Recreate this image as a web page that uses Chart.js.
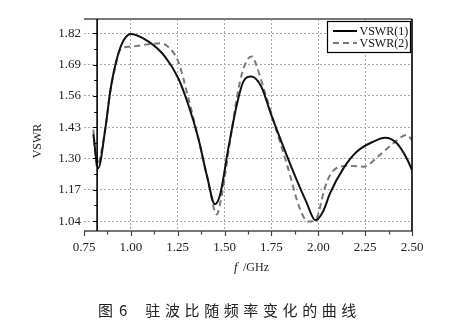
<!DOCTYPE html>
<html>
<head>
<meta charset="utf-8">
<script src="https://cdn.jsdelivr.net/npm/chart.js@4"></script>
<style>
  body { margin: 0; background: #fff; }
  #wrap { position: relative; width: 460px; height: 335px; }
  #myChart { position: absolute; left: 0; top: 0; }
  #caption {
    position: absolute; left: 98px; top: 300px;
    font-family: "Noto Sans CJK SC", sans-serif; font-size: 15px; color: #222;
    letter-spacing: 4.6px; white-space: nowrap; line-height: 20px;
  }
  #caption span { letter-spacing: 6px; margin-right: 12px; }
</style>
</head>
<body>
<div id="wrap">
  <canvas id="myChart" width="460" height="335"></canvas>
  <div id="caption"><span>图6</span>驻波比随频率变化的曲线</div>
</div>
<script>
// frequency (GHz) and VSWR samples for both curves
var freq1 = [0.80, 0.825, 0.864, 0.89, 0.917, 0.953, 1.00, 1.095, 1.182, 1.253, 1.307, 1.36, 1.405, 1.449, 1.476, 1.52, 1.565, 1.60, 1.643, 1.696, 1.749, 1.803, 1.874, 1.936, 1.984, 2.025, 2.063, 2.134, 2.205, 2.294, 2.356, 2.419, 2.472, 2.50];
var vswr1 = [1.40, 1.259, 1.425, 1.578, 1.688, 1.778, 1.817, 1.785, 1.723, 1.633, 1.522, 1.384, 1.231, 1.11, 1.149, 1.342, 1.522, 1.619, 1.64, 1.598, 1.481, 1.37, 1.231, 1.12, 1.044, 1.079, 1.156, 1.259, 1.328, 1.37, 1.386, 1.363, 1.30, 1.252];

var freq2 = [0.80, 0.818, 0.864, 0.89, 0.917, 0.935, 0.953, 1.00, 1.095, 1.157, 1.198, 1.253, 1.307, 1.36, 1.413, 1.458, 1.485, 1.529, 1.582, 1.627, 1.648, 1.669, 1.714, 1.768, 1.839, 1.901, 1.945, 1.99, 2.034, 2.063, 2.095, 2.169, 2.24, 2.329, 2.40, 2.472, 2.50];
var vswr2 = [1.42, 1.27, 1.425, 1.578, 1.68, 1.737, 1.758, 1.764, 1.774, 1.778, 1.764, 1.702, 1.55, 1.384, 1.204, 1.068, 1.149, 1.37, 1.619, 1.716, 1.723, 1.688, 1.578, 1.439, 1.259, 1.093, 1.038, 1.052, 1.176, 1.231, 1.259, 1.27, 1.266, 1.315, 1.363, 1.398, 1.377];

var yTicks = [1.04, 1.17, 1.30, 1.43, 1.56, 1.69, 1.82];
var seriesNames = ['VSWR(1)', 'VSWR(2)'];

function toPoints(xs, ys) {
  var pts = [];
  for (var i = 0; i < xs.length; i++) pts.push({x: xs[i], y: ys[i]});
  return pts;
}

var serif = '"Liberation Serif", "Times New Roman", serif';

// frame, tick marks, legend and axis titles
var decor = {
  id: 'decor',
  afterDraw: function(chart) {
    var ctx = chart.ctx, a = chart.chartArea;
    var xs = chart.scales.x, ys = chart.scales.y;
    var axisX = xs.getPixelForValue(0.82);
    ctx.save();

    // top and bottom lines
    ctx.strokeStyle = '#777';
    ctx.lineWidth = 2;
    ctx.beginPath();
    ctx.moveTo(a.left, a.top); ctx.lineTo(a.right, a.top);
    ctx.moveTo(a.left, a.bottom); ctx.lineTo(a.right, a.bottom);
    ctx.stroke();

    // x tick marks every 0.125
    ctx.lineWidth = 1.2;
    ctx.strokeStyle = '#444';
    ctx.beginPath();
    for (var k = 0; k <= 14; k++) {
      var px = Math.round(xs.getPixelForValue(0.75 + k * 0.125)) + 0.5;
      ctx.moveTo(px, a.bottom);
      ctx.lineTo(px, a.bottom + (k % 2 === 0 ? 5 : 3.5));
    }
    ctx.stroke();

    // left and right lines
    ctx.strokeStyle = '#000';
    ctx.lineWidth = 1.6;
    ctx.beginPath();
    ctx.moveTo(axisX, a.top); ctx.lineTo(axisX, a.bottom);
    ctx.moveTo(a.right, a.top); ctx.lineTo(a.right, a.bottom);
    ctx.stroke();

    // y tick marks, major on labels and minor halfway
    ctx.lineWidth = 1;
    ctx.beginPath();
    for (var j = -1; j <= 13; j++) {
      var v = 1.04 + j * 0.065;
      var py = Math.round(ys.getPixelForValue(v)) + 0.5;
      if (py < a.top || py > a.bottom) continue;
      ctx.moveTo(axisX, py);
      ctx.lineTo(axisX - (j % 2 === 0 ? 4 : 3), py);
    }
    ctx.stroke();

    // legend box
    var bx = 327, by = 21, bw = 83, bh = 31;
    ctx.fillStyle = '#fff';
    ctx.fillRect(bx, by, bw, bh);
    ctx.strokeStyle = '#000';
    ctx.lineWidth = 1.2;
    ctx.strokeRect(bx + 0.5, by + 0.5, bw, bh);
    var rows = [
      {y: 31, color: '#000', dash: []},
      {y: 43, color: '#7a7a7a', dash: [6, 4]}
    ];
    ctx.font = '12px ' + serif;
    ctx.textAlign = 'left';
    ctx.textBaseline = 'middle';
    rows.forEach(function(r, i) {
      ctx.strokeStyle = r.color;
      ctx.lineWidth = 2;
      ctx.setLineDash(r.dash);
      ctx.beginPath();
      ctx.moveTo(333, r.y); ctx.lineTo(357, r.y);
      ctx.stroke();
      ctx.setLineDash([]);
      ctx.fillStyle = '#111';
      ctx.fillText(seriesNames[i], 359.5, r.y + 0.5);
    });

    // y axis title
    ctx.save();
    ctx.translate(38, 141);
    ctx.rotate(-Math.PI / 2);
    ctx.textAlign = 'center';
    ctx.textBaseline = 'middle';
    ctx.fillStyle = '#222';
    ctx.font = '12px ' + serif;
    ctx.fillText('VSWR', 0, 0);
    ctx.restore();

    // x axis title, italic f
    ctx.fillStyle = '#222';
    ctx.textBaseline = 'middle';
    ctx.textAlign = 'left';
    ctx.font = 'italic 13px ' + serif;
    ctx.fillText('f', 234, 268);
    ctx.font = '12px ' + serif;
    ctx.fillText('/GHz', 243, 268);

    ctx.restore();
  }
};

const config = {
  type: 'line',
  data: {
    datasets: [{
      label: seriesNames[0],
      data: toPoints(freq1, vswr1),
      borderColor: '#111',
      borderWidth: 2,
      pointRadius: 0,
      cubicInterpolationMode: 'monotone',
      fill: false
    }, {
      label: seriesNames[1],
      data: toPoints(freq2, vswr2),
      borderColor: '#7a7a7a',
      borderWidth: 2,
      borderDash: [6, 4],
      pointRadius: 0,
      cubicInterpolationMode: 'monotone',
      fill: false
    }]
  },
  options: {
    responsive: false,
    animation: false,
    layout: { padding: { left: 0, right: 48, top: 19, bottom: 74 } },
    plugins: {
      legend: { display: false },
      tooltip: { enabled: false }
    },
    scales: {
      x: {
        type: 'linear',
        min: 0.75,
        max: 2.5,
        afterFit: function(s) { s.height = 30; },
        ticks: {
          stepSize: 0.25,
          padding: 9,
          color: '#222',
          font: { family: serif, size: 13 },
          callback: function(v) { return v.toFixed(2); }
        },
        grid: {
          drawTicks: false,
          lineWidth: 1,
          color: function(c) {
            var v = c.tick ? c.tick.value : 0;
            return (v <= 0.76 || v >= 2.49) ? 'rgba(0,0,0,0)' : '#a8a8a8';
          }
        },
        border: { display: false, dash: [2, 2] }
      },
      y: {
        min: 0.999,
        max: 1.879,
        afterFit: function(s) { s.width = 84; },
        afterBuildTicks: function(s) {
          s.ticks = yTicks.map(function(v) { return {value: v}; });
        },
        ticks: {
          padding: 3,
          color: '#222',
          font: { family: serif, size: 13 },
          callback: function(v) { return v.toFixed(2); }
        },
        grid: { drawTicks: false, color: '#a8a8a8', lineWidth: 1 },
        border: { display: false, dash: [2, 2] }
      }
    }
  },
  plugins: [decor]
};

const myChart = new Chart(document.getElementById('myChart'), config);
</script>
</body>
</html>
